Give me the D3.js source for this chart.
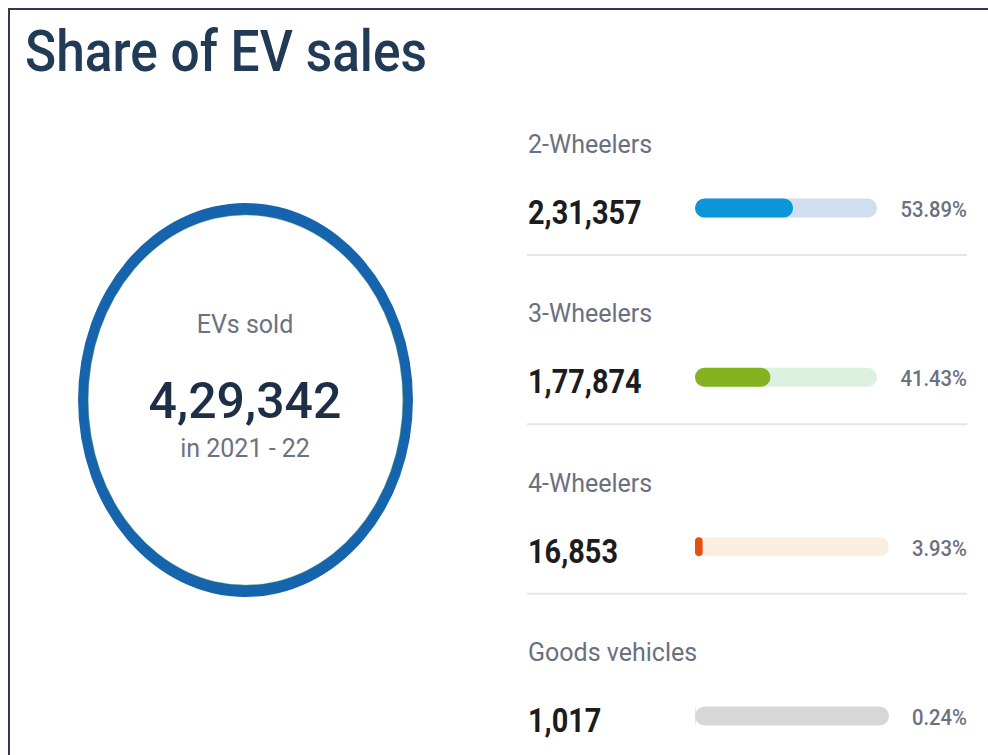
<!DOCTYPE html>
<html>
<head>
<meta charset="utf-8">
<script src="https://cdn.jsdelivr.net/npm/d3@7"></script>
<style>
  html, body { margin: 0; padding: 0; background: #ffffff; }
  svg { display: block; font-family: Roboto, "Noto Sans", sans-serif; }
</style>
</head>
<body>
<svg id="chart" width="988" height="755"></svg>
<script>
// ---- data ----
const titleText = "Share of EV sales";
const categories = ["2-Wheelers", "3-Wheelers", "4-Wheelers", "Goods vehicles"];
const unitsSold = [231357, 177874, 16853, 1017];
const sharePct = [53.89, 41.43, 3.93, 0.24];
const totalLabel = "EVs sold";
const totalSold = 429342;
const periodLabel = "in 2021 - 22";

// ---- styles ----
const fillColors = ["#0a96d8", "#84b322", "#e5500f", "#d4d4d4"];
const trackColors = ["#cfdff0", "#ddf1e0", "#f9eee0", "#d7d7d7"];

function formatIN(n) {
  const s = String(Math.round(n));
  if (s.length <= 3) return s;
  const last3 = s.slice(-3);
  let rest = s.slice(0, -3);
  const parts = [];
  while (rest.length > 2) { parts.unshift(rest.slice(-2)); rest = rest.slice(0, -2); }
  if (rest.length) parts.unshift(rest);
  return parts.join(",") + "," + last3;
}

const svg = d3.select("#chart");

// frame
svg.append("line").attr("x1", 9).attr("x2", 988).attr("y1", 9).attr("y2", 9)
  .attr("stroke", "#3c3350").attr("stroke-width", 2);
svg.append("line").attr("x1", 9).attr("x2", 9).attr("y1", 8).attr("y2", 755)
  .attr("stroke", "#3c3350").attr("stroke-width", 2);

// title
svg.append("text").attr("x", 25).attr("y", 71)
  .attr("font-size", 58).attr("font-weight", 500).attr("fill", "#213a56")
  .attr("textLength", 402).attr("lengthAdjust", "spacingAndGlyphs")
  .text(titleText);

// ring (ellipse) built from d3.arc
const ring = svg.append("g").attr("transform", "translate(245.5,400) scale(0.85,1)");
const arc = d3.arc().innerRadius(185).outerRadius(197).startAngle(0).endAngle(2 * Math.PI);
ring.append("path").attr("d", arc()).attr("fill", "#1564ad");
ring.append("ellipse").attr("rx", 185).attr("ry", 185).attr("fill", "none")
  .attr("stroke", "#8fcf5a").attr("stroke-width", 0.8).attr("stroke-opacity", 0.5);

const cx = 245;
svg.append("text").attr("x", cx).attr("y", 333).attr("text-anchor", "middle")
  .attr("font-size", 25).attr("fill", "#6b7280").text(totalLabel);
svg.append("text").attr("x", cx).attr("y", 418).attr("text-anchor", "middle")
  .attr("font-size", 50).attr("font-weight", 500).attr("fill", "#1d2f46").text(formatIN(totalSold));
svg.append("text").attr("x", cx).attr("y", 457).attr("text-anchor", "middle")
  .attr("font-size", 25).attr("fill", "#6b7280").text(periodLabel);

// rows
const rowY = d3.scalePoint().domain(categories).range([153, 661]);
const rows = svg.selectAll("g.row").data(categories).join("g")
  .attr("class", "row")
  .attr("transform", d => `translate(0,${rowY(d)})`);

rows.append("text").attr("x", 528).attr("y", 0)
  .attr("font-size", 25).attr("fill", "#6b7080").text(d => d);

rows.append("g").attr("transform", "translate(528,71) scale(0.85,1)")
  .append("text").attr("x", 0).attr("y", 0)
  .attr("font-size", 34).attr("font-weight", 700).attr("fill", "#1c1c1e")
  .text((d, i) => formatIN(unitsSold[i]));

rows.each(function (d, i) {
  const g = d3.select(this);
  const trackW = i < 2 ? 182 : 194;
  const x = d3.scaleLinear().domain([0, 100]).range([0, trackW]);
  const h = 19;
  g.append("rect").attr("x", 695).attr("y", 55 - h / 2).attr("width", x(100)).attr("height", h)
    .attr("rx", h / 2).attr("fill", trackColors[i]);
  g.append("rect").attr("x", 695).attr("y", 55 - h / 2).attr("width", x(sharePct[i])).attr("height", h)
    .attr("rx", Math.min(h / 2, x(sharePct[i]) / 2)).attr("fill", fillColors[i]);
  g.append("g").attr("transform", "translate(967,64) scale(0.92,1)")
    .append("text").attr("x", 0).attr("y", 0).attr("text-anchor", "end")
    .attr("font-size", 22).attr("font-weight", 500).attr("fill", "#6b7080")
    .text(sharePct[i].toFixed(2) + "%");
  if (i < categories.length - 1) {
    g.append("line").attr("x1", 527).attr("x2", 967).attr("y1", 102).attr("y2", 102)
      .attr("stroke", "#e4e6ea").attr("stroke-width", 2);
  }
});
</script>
</body>
</html>
